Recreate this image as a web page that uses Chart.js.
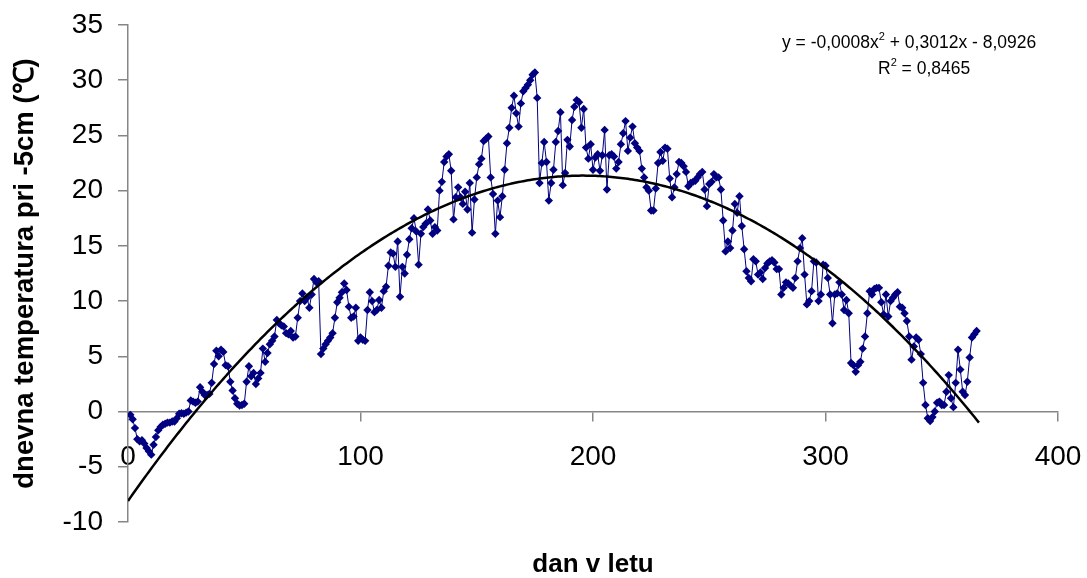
<!DOCTYPE html>
<html>
<head>
<meta charset="utf-8">
<script src="https://cdn.jsdelivr.net/npm/chart.js@4.4.1/dist/chart.umd.min.js"></script>
<style>
  body { margin: 0; background: #fff; }
  canvas { display: block; }
</style>
</head>
<body>
<canvas id="myChart" width="1087" height="578"></canvas>
<script>
// daily temperature at -5 cm, one value per day
const temps = [
  -0.3, -0.7, -1.5, -2.5, -2.7, -2.6, -2.9, -3.3, -3.6, -3.9,
  -3.0, -2.3, -1.7, -1.4, -1.2, -1.1, -1.0, -1.0, -0.9, -0.9,
  -0.6, -0.2, -0.15, -0.2, -0.1, 0.0, 1.0, 0.9, 0.8, 0.9,
  2.2, 1.8, 1.5, 1.5, 1.6, 2.6, 4.3, 5.5, 5.0, 5.6,
  5.4, 4.2, 4.1, 2.7, 1.9, 1.2, 0.7, 0.55, 0.6, 0.7,
  2.7, 4.1, 3.2, 3.5, 2.5, 3.0, 3.5, 5.7, 4.5, 5.3,
  6.1, 6.4, 6.8, 8.3, 8.0, 7.8, 7.7, 7.1, 7.0, 7.3,
  6.7, 6.8, 8.5, 10.0, 10.7, 10.0, 10.3, 9.4, 10.6, 12.0,
  11.7, 11.8, 5.2, 5.7, 6.1, 6.4, 6.7, 7.1, 8.5, 9.9,
  10.3, 10.8, 11.6, 11.0, 9.5, 8.5, 8.6, 9.4, 6.4, 6.7,
  6.5, 6.4, 9.2, 10.8, 10.0, 9.0, 9.2, 10.1, 9.4, 10.9,
  11.3, 13.2, 14.4, 14.3, 13.1, 15.4, 10.4, 13.1, 12.5, 14.2,
  15.6, 16.6, 17.5, 16.3, 13.3, 16.1, 16.7, 17.0, 18.3, 17.3,
  16.1, 16.7, 16.4, 20.0, 20.8, 22.6, 23.1, 23.3, 21.8, 17.4,
  19.4, 20.3, 19.4, 18.8, 19.9, 18.3, 20.7, 16.2, 19.2, 21.2,
  22.4, 22.9, 24.5, 24.7, 24.9, 21.2, 19.7, 16.1, 19.1, 17.6,
  19.5, 21.9, 24.3, 25.7, 27.5, 28.6, 27.0, 25.8, 27.9, 29.0,
  29.3, 29.6, 30.0, 30.5, 30.7, 28.4, 20.7, 22.5, 24.4, 22.6,
  19.1, 20.7, 21.9, 24.4, 25.4, 27.1, 20.5, 21.6, 24.6, 24.0,
  26.4, 27.6, 28.2, 28.0, 25.7, 27.4, 23.9, 22.9, 24.2, 21.9,
  23.0, 23.3, 21.8, 23.2, 25.5, 20.1, 23.2, 23.3, 23.1, 22.0,
  22.6, 24.2, 25.2, 26.3, 23.6, 24.8, 25.8, 24.3, 23.9, 23.6,
  22.0, 21.2, 20.3, 20.0, 18.2, 18.2, 20.2, 22.5, 23.5, 22.7,
  23.9, 23.8, 21.1, 19.4, 20.3, 21.5, 22.6, 22.5, 22.2, 21.7,
  20.4, 20.7, 20.8, 20.9, 21.2, 21.5, 21.7, 20.1, 18.6, 20.6,
  20.8, 21.5, 21.2, 21.2, 20.1, 17.3, 14.5, 15.4, 14.8, 16.4,
  18.8, 18.0, 19.5, 16.8, 14.7, 12.7, 12.1, 11.8, 13.8, 13.6,
  12.4, 12.6, 12.0, 13.0, 13.4, 13.6, 13.7, 13.5, 12.9, 12.9,
  10.6, 11.2, 11.7, 11.6, 11.4, 11.2, 12.1, 13.6, 14.8, 15.7,
  12.4, 9.7, 10.0, 10.9, 13.6, 13.5, 10.0, 10.6, 13.3, 13.2,
  12.1, 10.6, 8.0, 10.6, 10.7, 11.7, 10.6, 9.2, 10.1, 8.9,
  4.4, 4.2, 3.6, 4.2, 4.5, 5.7, 6.8, 8.9, 10.9, 10.6,
  11.1, 11.2, 11.2, 9.9, 8.8, 10.6, 8.6, 10.0, 10.3, 10.6,
  10.8, 9.5, 9.4, 8.9, 8.2, 6.8, 4.7, 5.9, 6.7, 6.5,
  5.2, 2.6, 0.6, -0.6, -0.85, -0.5, 0.0, 0.8, 0.9, 0.6,
  0.6, 1.8, 3.3, 1.2, 0.4, 2.6, 5.6, 3.8, 1.8, 1.5,
  2.7, 4.9, 6.7, 7.0, 7.3
];
const days = temps.map((_, i) => i + 1);

// polynomial trendline (coefficients as shown, a slightly less rounded)
const trendCoef = [-0.00077, 0.3012, -8.0926];
const trendRange = [0, 366];

const xTicks = [0, 100, 200, 300, 400];
const yTicks = [-10, -5, 0, 5, 10, 15, 20, 25, 30, 35];

const eqLine1 = ['y = -0,0008x', '2', ' + 0,3012x - 8,0926'];
const eqLine2 = ['R', '2', ' = 0,8465'];

const FONT = "'Liberation Sans', Arial, sans-serif";
const axisGray = '#868686';

const points = days.map((d, i) => ({ x: d, y: temps[i] }));
const trend = [];
for (let d = trendRange[0]; d <= trendRange[1]; d++) {
    trend.push({ x: d, y: trendCoef[0] * d * d + trendCoef[1] * d + trendCoef[2] });
}

function drawSup(ctx, parts, x, y) {
    // text, superscript, text
    ctx.font = '17.5px ' + FONT;
    ctx.fillText(parts[0], x, y);
    let w = ctx.measureText(parts[0]).width;
    ctx.font = '11px ' + FONT;
    ctx.fillText(parts[1], x + w, y - 8);
    w += ctx.measureText(parts[1]).width;
    ctx.font = '17.5px ' + FONT;
    ctx.fillText(parts[2], x + w, y);
}

const equationPlugin = {
    id: 'equation',
    afterDraw(chart) {
        const ctx = chart.ctx;
        ctx.save();
        ctx.fillStyle = '#000';
        ctx.textBaseline = 'alphabetic';
        ctx.textAlign = 'left';
        drawSup(ctx, eqLine1, 782, 48);
        drawSup(ctx, eqLine2, 878, 74);
        ctx.restore();
    }
};

const ctx = document.getElementById('myChart').getContext('2d');
const myChart = new Chart(ctx, {
    type: 'scatter',
    data: {
        datasets: [
            {
                label: 'trend',
                data: trend,
                showLine: true,
                borderColor: '#000',
                borderWidth: 2.5,
                pointRadius: 0,
                tension: 0,
            },
            {
                label: 'temperatura',
                data: points,
                showLine: true,
                borderColor: '#000080',
                borderWidth: 1,
                backgroundColor: '#000080',
                pointStyle: 'rectRot',
                pointRadius: 4.2,
                pointBorderWidth: 0,
            },
        ],
    },
    options: {
        responsive: false,
        animation: false,
        devicePixelRatio: 1,
        layout: { padding: { left: 0, right: 29, top: 25, bottom: 0 } },
        plugins: {
            legend: { display: false },
            tooltip: { enabled: false },
            title: {
                display: true,
                position: 'bottom',
                fullSize: false,
                text: 'dan v letu',
                color: '#000',
                font: { family: FONT, size: 26, weight: 'bold', lineHeight: 1 },
                padding: { top: 30, bottom: 0 },
            },
        },
        scales: {
            x: {
                type: 'linear',
                min: 0,
                max: 400,
                position: { y: 0 },
                afterFit: (s) => { s.height = 0; s.paddingLeft = 0; s.paddingRight = 0; },
                afterBuildTicks: (s) => { s.ticks = xTicks.map((v) => ({ value: v })); },
                grid: { drawOnChartArea: false, tickLength: 9, color: axisGray, lineWidth: 1.5 },
                border: { color: axisGray, width: 1.5 },
                ticks: { color: '#000', padding: 20, font: { family: FONT, size: 28 } },
            },
            y: {
                min: -10,
                max: 35,
                afterFit: (s) => { s.width = 128; s.paddingTop = 0; s.paddingBottom = 0; },
                afterBuildTicks: (s) => { s.ticks = yTicks.map((v) => ({ value: v })); },
                grid: { drawOnChartArea: false, tickLength: 10, color: axisGray, lineWidth: 1.5 },
                border: { color: axisGray, width: 1.5 },
                ticks: { color: '#000', padding: 15, font: { family: FONT, size: 28 } },
                title: {
                    display: true,
                    text: 'dnevna temperatura pri -5cm (\u2103)',
                    color: '#000',
                    font: { family: FONT, size: 27.5, weight: 'bold', lineHeight: 1.2 },
                    padding: { top: 9, bottom: 0 },
                },
            },
        },
    },
    plugins: [equationPlugin],
});
</script>
</body>
</html>
